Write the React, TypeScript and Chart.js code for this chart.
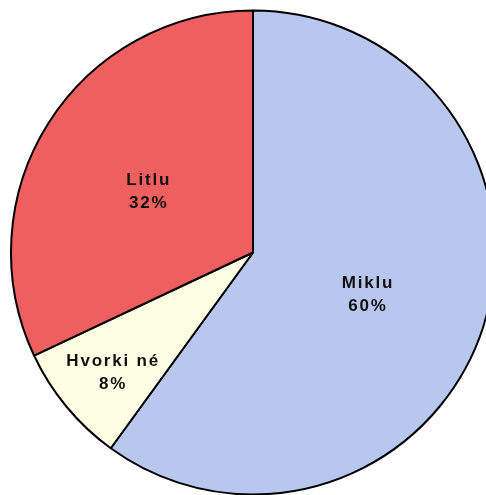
import React, { useEffect, useRef } from "react";
import { Chart, registerables } from "chart.js";

Chart.register(...registerables);

const categories = ["Miklu", "Hvorki né", "Litlu"];
const values = [60, 8, 32];
const percentLabels = ["60%", "8%", "32%"];
const colors = ["#B9C6EE", "#FCFFE3", "#EF5F5F"];

const labelPlugin = {
  id: "sliceLabels",
  afterDatasetsDraw(chart: any) {
    const ctx = chart.ctx;
    const meta = chart.getDatasetMeta(0);
    const fractions = [0.5, 0.75, 0.51];
    ctx.save();
    ctx.fillStyle = "#111111";
    ctx.font = "bold 17px 'Liberation Sans', Arial, sans-serif";
    (ctx as any).letterSpacing = "1.8px";
    ctx.textAlign = "center";
    ctx.textBaseline = "middle";
    meta.data.forEach((arc: any, i: number) => {
      const { x, y, startAngle, endAngle, outerRadius } = arc.getProps(
        ["x", "y", "startAngle", "endAngle", "outerRadius"],
        true
      );
      const mid = (startAngle + endAngle) / 2;
      const r = outerRadius * fractions[i];
      const cx = x + Math.cos(mid) * r;
      const cy = y + Math.sin(mid) * r + 5;
      ctx.fillText(categories[i], cx, cy - 11.5);
      ctx.fillText(percentLabels[i], cx, cy + 11.5);
    });
    ctx.restore();
  },
};

export default function App() {
  const ref = useRef<HTMLCanvasElement | null>(null);
  useEffect(() => {
    if (!ref.current) return;
    const chart = new Chart(ref.current, {
      type: "pie",
      data: {
        labels: categories,
        datasets: [
          {
            data: values,
            backgroundColor: colors,
            borderColor: "#000000",
            borderWidth: 2,
          },
        ],
      },
      options: {
        responsive: false,
        animation: false,
        radius: 242,
        layout: { padding: 0 },
        plugins: {
          legend: { display: false },
          tooltip: { enabled: false },
        },
      } as any,
      plugins: [labelPlugin],
    });
    return () => chart.destroy();
  }, []);
  return (
    <div
      style={{
        position: "fixed",
        left: 0,
        top: 0,
        width: 506,
        height: 505,
        background: "#ffffff",
      }}
    >
      <canvas ref={ref} width={506} height={505} style={{ width: 506, height: 505 }} />
    </div>
  );
}
